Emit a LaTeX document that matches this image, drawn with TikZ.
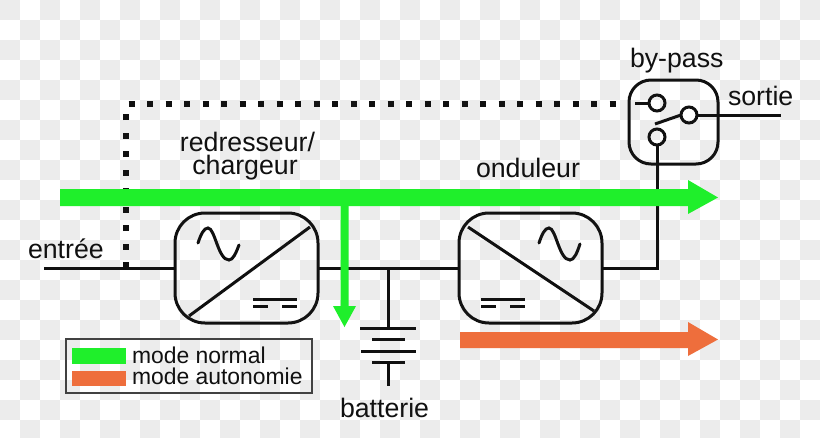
\documentclass[tikz,border=0pt]{standalone}
\usepackage{fontspec}
\setmainfont{Liberation Sans}
\definecolor{chk}{HTML}{ECECEC}
\definecolor{gr}{HTML}{1FEF2B}
\definecolor{orng}{HTML}{EE6E3C}
\definecolor{ink}{HTML}{111111}
\tikzset{
  wire/.style={draw=ink,line width=3pt},
  conv/.style={draw=ink,line width=3pt,rectangle,rounded corners=30pt,minimum width=143pt,minimum height=110pt,inner sep=0pt,outer sep=0pt},
  bypassbox/.style={draw=ink,line width=3pt,rectangle,rounded corners=22pt,minimum width=89pt,minimum height=84pt,inner sep=0pt,outer sep=0pt},
  contact/.style={draw=ink,line width=3pt,circle,minimum size=16pt,inner sep=0pt,outer sep=0pt},
  lbl/.style={anchor=base west,inner sep=0pt,outer sep=0pt,text=ink,font=\fontsize{26.7}{30}\selectfont},
  leglbl/.style={anchor=base west,inner sep=0pt,outer sep=0pt,text=ink,font=\fontsize{22.9}{26}\selectfont},
  dotline/.style={draw=ink,line width=6pt,dash pattern=on 6pt off 12.5pt},
  plate/.style={draw=ink,line width=3pt},
  sinewave/.style={draw=ink,line width=3pt,line cap=round},
  dcline/.style={draw=ink,line width=3pt}
}
\begin{document}
\begin{tikzpicture}[x=1pt,y=-1pt]
\useasboundingbox (0,0) rectangle (820,437);
\fill[white] (0,0) rectangle (820,437);
\begin{scope}
\clip (0,0) rectangle (820,437);
\foreach \c in {0,...,40}{
  \foreach \r in {0,...,21}{
    \pgfmathparse{int(mod(\c+\r,2))}
    \ifnum\pgfmathresult=0
      \fill[chk] ({\c*20},{\r*20}) rectangle ({(\c+1)*20},{(\r+1)*20});
    \fi
  }
}
\end{scope}

% nodes
\node[conv] (c1) at (246.5,268) {};
\node[conv] (c2) at (530.5,268) {};
\node[bypassbox] (bp) at (673.5,122) {};
\node[contact] (kt) at (657,103) {};
\node[contact] (kr) at (689,115) {};
\node[contact] (kb) at (657,137) {};
\coordinate (in) at (44,268);
\coordinate (tap) at (126,268);
\coordinate (dotend) at (616,104);
\coordinate (dotcorner) at (126,104);
\coordinate (out) at (781,115);
\coordinate (kl) at (635,103);
\coordinate (krr) at (bp.east |- kr);
\coordinate (arm) at (655,124);
\coordinate (bat) at (388,268);
\coordinate (p1) at (388,328);
\coordinate (p4) at (388,362);
\coordinate (bend) at (388,386);

% wires
\draw[dotline] (tap) -- (dotcorner) -- (dotend);
\draw[wire] (in) -- (c1.west);
\draw[wire] (c1.east) -- (c2.west);
\draw[wire] (c2.east) -| (kb.south);
\draw[wire] (kl) -- (kt.west);
\draw[wire] (kr.east) -- (krr) -- (out);
\draw[wire] (arm) -- (kr.west);
\draw[wire] (bat) -- (p1);
\draw[wire] (p4) -- (bend);

% battery
\draw[plate] (360,328) -- (416,328);
\draw[plate] (372,339) -- (405,339);
\draw[plate] (361,351) -- (416,351);
\draw[plate] (372,362) -- (405,362);

% converter 1 symbols
\draw[wire] (189,316) -- (310,227);
\draw[sinewave] (198,243) .. controls (201,234) and (204,228) .. (208,228) .. controls (215,228) and (218,260) .. (229,260) .. controls (233,260) and (236,253) .. (239,245);
\draw[dcline] (253,299) -- (297,299);
\draw[dcline] (253,306) -- (268,306);
\draw[dcline] (282,306) -- (297,306);

% converter 2 symbols
\draw[wire] (468,227) -- (594,311);
\draw[sinewave] (539,243) .. controls (542,234) and (545,228) .. (549,228) .. controls (556,228) and (559,260) .. (570,260) .. controls (574,260) and (577,253) .. (580,244);
\draw[dcline] (481,299) -- (525,299);
\draw[dcline] (481,306) -- (496,306);
\draw[dcline] (510,306) -- (525,306);

% flow arrows
\fill[gr] (60,189) -- (688,189) -- (688,180) -- (718,197.5) -- (688,214) -- (688,206) -- (60,206) -- cycle;
\fill[gr] (340.5,206) -- (348.5,206) -- (348.5,306) -- (356,306) -- (344.5,327) -- (333,306) -- (340.5,306) -- cycle;
\fill[orng] (460,332) -- (688,332) -- (688,322) -- (718,339.5) -- (688,356) -- (688,348) -- (460,348) -- cycle;

% legend
\draw[draw=ink!80,line width=1.5pt] (66,339) rectangle (312,393);
\fill[gr] (72,348) rectangle (126,364);
\fill[orng] (72,371) rectangle (126,386);
\node[leglbl] (t1) at (132,363) {mode normal};
\node[leglbl] (t2) at (132,384) {mode autonomie};

% labels
\node[inner sep=0pt,outer sep=0pt,text=ink,align=center,font=\fontsize{26.7}{23}\selectfont] (l1) at (247.5,156) {redresseur/\\chargeur\hspace*{5pt}};
\node[lbl] (l3) at (476,177) {onduleur};
\node[lbl] (l4) at (28,258) {entrée};
\node[lbl] (l5) at (630,67) {by-pass};
\node[lbl] (l6) at (728,105) {sortie};
\node[lbl] (l7) at (340,417) {batterie};
\end{tikzpicture}
\end{document}
